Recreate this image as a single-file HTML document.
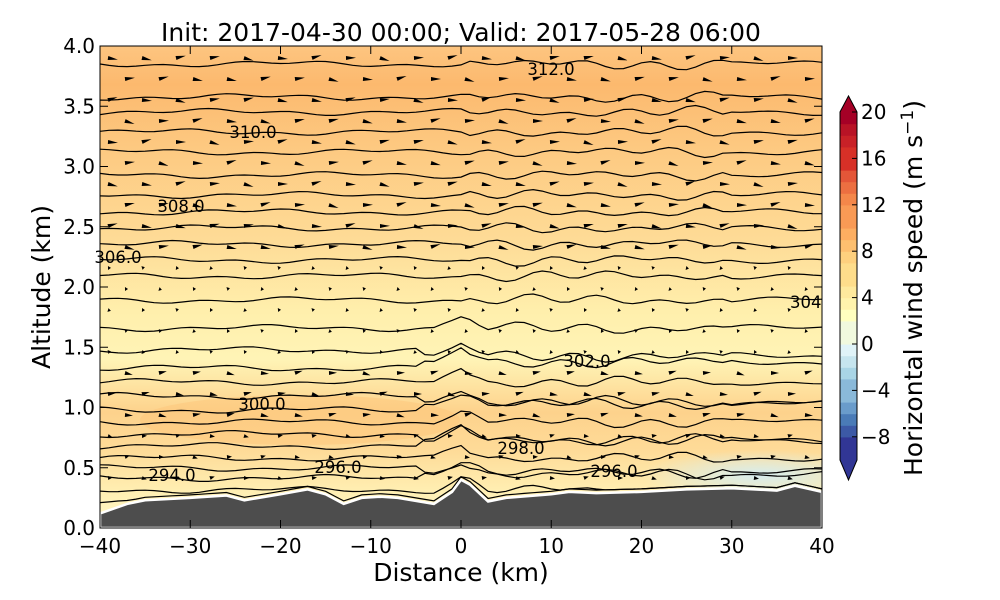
<!DOCTYPE html>
<html><head><meta charset="utf-8"><style>
body{margin:0;background:#fff;}
svg{display:block;font-family:"DejaVu Sans","Liberation Sans",sans-serif;}
</style></head><body>
<svg id="s" width="1000" height="600" viewBox="0 0 1000 600" xmlns="http://www.w3.org/2000/svg">
<defs>
<linearGradient id="bg" x1="0" y1="0" x2="0" y2="1">
<stop offset="0" stop-color="#fdc580"/>
<stop offset="0.08" stop-color="#fcb96e"/>
<stop offset="0.22" stop-color="#fdca82"/>
<stop offset="0.4" stop-color="#fedb96"/>
<stop offset="0.55" stop-color="#ffefac"/>
<stop offset="0.65" stop-color="#fff4b6"/>
<stop offset="0.76" stop-color="#fdd28c"/>
<stop offset="0.84" stop-color="#fedb98"/>
<stop offset="0.93" stop-color="#fff0b4"/>
<stop offset="1" stop-color="#fff8c8"/>
</linearGradient>
<radialGradient id="blue" cx="0.5" cy="0.5" r="0.5">
<stop offset="0" stop-color="#d6edf0"/>
<stop offset="1" stop-color="#d6edf0" stop-opacity="0"/>
</radialGradient>
<clipPath id="pc"><rect x="100" y="46" width="722" height="482"/></clipPath>
</defs>
<g clip-path="url(#pc)">
<rect x="100" y="46" width="722" height="482" fill="url(#bg)"/>
<ellipse cx="760" cy="475" rx="120" ry="25" fill="url(#blue)"/>
<ellipse cx="300" cy="420" rx="160" ry="25" fill="#fdc67a" opacity="0.5"/>
<g id="cont" fill="none" stroke="#000" stroke-width="1.2"></g>
<g id="arr" fill="#000"></g>
<path id="terr" fill="#4d4d4d" stroke="#fff" stroke-width="2.5"/>
</g>
<g font-size="16.5" fill="#000">
<text x="551" y="75" text-anchor="middle">312.0</text>
<text x="253" y="138" text-anchor="middle">310.0</text>
<text x="181" y="212" text-anchor="middle">308.0</text>
<text x="118" y="263" text-anchor="middle">306.0</text>
<text x="790" y="308">304</text>
<text x="587" y="367" text-anchor="middle">302.0</text>
<text x="262" y="410" text-anchor="middle">300.0</text>
<text x="521" y="454" text-anchor="middle">298.0</text>
<text x="338" y="473" text-anchor="middle">296.0</text>
<text x="614" y="477" text-anchor="middle">296.0</text>
<text x="172" y="481" text-anchor="middle">294.0</text>
</g>
<rect x="100" y="46" width="722" height="482" fill="none" stroke="#000" stroke-width="1"/>
<g id="ticks" stroke="#000" stroke-width="1"></g>
<g id="tl" font-size="20" fill="#000"></g>
<text x="461" y="41" font-size="25" text-anchor="middle">Init: 2017-04-30 00:00; Valid: 2017-05-28 06:00</text>
<text x="461" y="581" font-size="25" text-anchor="middle">Distance (km)</text>
<text transform="translate(50,287) rotate(-90)" font-size="25" text-anchor="middle">Altitude (km)</text>
<g id="cb"></g>
<text transform="translate(922,288) rotate(-90)" font-size="25" text-anchor="middle">Horizontal wind speed (m s<tspan dy="-9" font-size="17">−1</tspan><tspan dy="9">)</tspan></text>
</svg>
<script>
var NS="http://www.w3.org/2000/svg";
function X(d){return 100+(d+40)*9.025;}
function Y(a){return 528-a*120.5;}
function el(t,a,p){var e=document.createElementNS(NS,t);for(var k in a)e.setAttribute(k,a[k]);p.appendChild(e);return e;}
var ter=[[-40,.12],[-37,.2],[-35,.23],[-30,.25],[-26,.27],[-24,.23],[-20,.28],[-17,.32],[-15,.28],[-13,.2],[-11,.25],[-9,.26],[-7,.25],[-3,.2],[-1,.3],[0,.4],[1,.36],[3,.22],[5,.25],[10,.28],[12,.3],[15,.29],[20,.3],[25,.32],[30,.33],[35,.31],[37,.35],[40,.3]];
var d="M100,528";ter.forEach(function(p){d+=" L"+X(p[0]).toFixed(1)+","+Y(p[1]).toFixed(1);});d+=" L822,528 Z";
document.getElementById("terr").setAttribute("d",d);
function terAt(x){for(var i=0;i<ter.length-1;i++){if(x>=ter[i][0]&&x<=ter[i+1][0]){var t=(x-ter[i][0])/(ter[i+1][0]-ter[i][0]);return ter[i][1]+t*(ter[i+1][1]-ter[i][1]);}}return .3;}
var cont=document.getElementById("cont");
var ys=[64,97,112,132,152,175,195,212,228,244,260,276,300,328,350,368,382,396,410,422,434,446,458,468,478,490,500];
ys.forEach(function(y0,j){
 var p="";
 for(var k=0;k<=80;k++){
  var x=-40+k;
  var w=Math.sin(k*0.7+j*1.3)*1.5+Math.sin(k*0.23+j)*2;
  if(x>0&&x<30) w+=Math.sin(k*0.9+j)*3;
  var y=y0+w+(y0>300? (x>-5? 6*(j%3-1):0):0);
  var bump=0; if(Math.abs(x)<3&&y0>320) bump=-12*(1-Math.abs(x)/3);
  y+=bump;
  var g=Y(terAt(x))-3; if(y>g) y=g;
  p+=(k?" L":"M")+X(x).toFixed(1)+","+y.toFixed(1);
 }
 el("path",{d:p},cont);
});
var arr=document.getElementById("arr");
for(var yy=58;yy<500;yy+=21){for(var xx=108;xx<822;xx+=34){
 var a=(528-yy)/120.5; var ox=((yy/21|0)%2)*17;var x=xx+ox; if(x>820)continue;
 var dd=(x-100)/9.025-40; if(Y(terAt(dd))-6<yy)continue;
 var L=a>2.2?10:(a>0.8&&a<1.3?8:(a>1.4&&a<2.2?3:5));
 var ang=Math.sin(x*0.05+yy)*0.3;
 var c=Math.cos(ang),s=Math.sin(ang);
 el("polygon",{points:(x+L*c)+","+(yy+L*s)+" "+(x-s*2)+","+(yy+c*2)+" "+(x+s*2)+","+(yy-c*2)},arr);
}}
var tk=document.getElementById("ticks"),tl=document.getElementById("tl");
for(var v=-40;v<=40;v+=10){var x=X(v);el("line",{x1:x,y1:528,x2:x,y2:520},tk);el("line",{x1:x,y1:46,x2:x,y2:54},tk);
 var t=el("text",{x:x,y:553,"text-anchor":"middle"},tl);t.textContent=(v<0?"−":"")+Math.abs(v);}
for(var v=0;v<=8;v++){var y=Y(v*0.5);el("line",{x1:100,y1:y,x2:108,y2:y},tk);el("line",{x1:822,y1:y,x2:814,y2:y},tk);
 var t=el("text",{x:95,y:y+7,"text-anchor":"end"},tl);t.textContent=(v*0.5).toFixed(1);}
var cb=document.getElementById("cb");
var cols=["#313695","#3c59a6","#4a7bb7","#6a9ccb","#8ab9d9","#a9d5e6","#c6e5ef","#e0f3f8","#f1f9de","#ffffbf","#fff3ac","#fee99d","#fedd8b","#fed07e","#fdbf6f","#fdae61","#f99a55","#f4874a","#ec6f41","#e45638","#d73027","#c82127","#b81326","#a50026"];
var cTop=112,cBot=460,nn=30,hh=(cBot-cTop)/nn;
for(var i=0;i<nn;i++){var v=-10+i;var ci=Math.min(cols.length-1,Math.floor((v+10)/30*cols.length));
 el("rect",{x:840,y:cBot-(i+1)*hh,width:17,height:hh+0.6,fill:cols[ci]},cb);}
el("polygon",{points:"840,112 857,112 848.5,96",fill:"#a50026"},cb);
el("polygon",{points:"840,460 857,460 848.5,480",fill:"#313695"},cb);
el("polygon",{points:"840,112 848.5,96 857,112 857,460 848.5,480 840,460",fill:"none",stroke:"#000","stroke-width":1},cb);
[20,16,12,8,4,0,-4,-8].forEach(function(v){var y=344-v*11.6;el("line",{x1:857,y1:y,x2:852,y2:y,stroke:"#000"},cb);
 var t=el("text",{x:861,y:y+7,"font-size":"20"},cb);t.textContent=(v<0?"−":"")+Math.abs(v);});
</script>
</body></html>
